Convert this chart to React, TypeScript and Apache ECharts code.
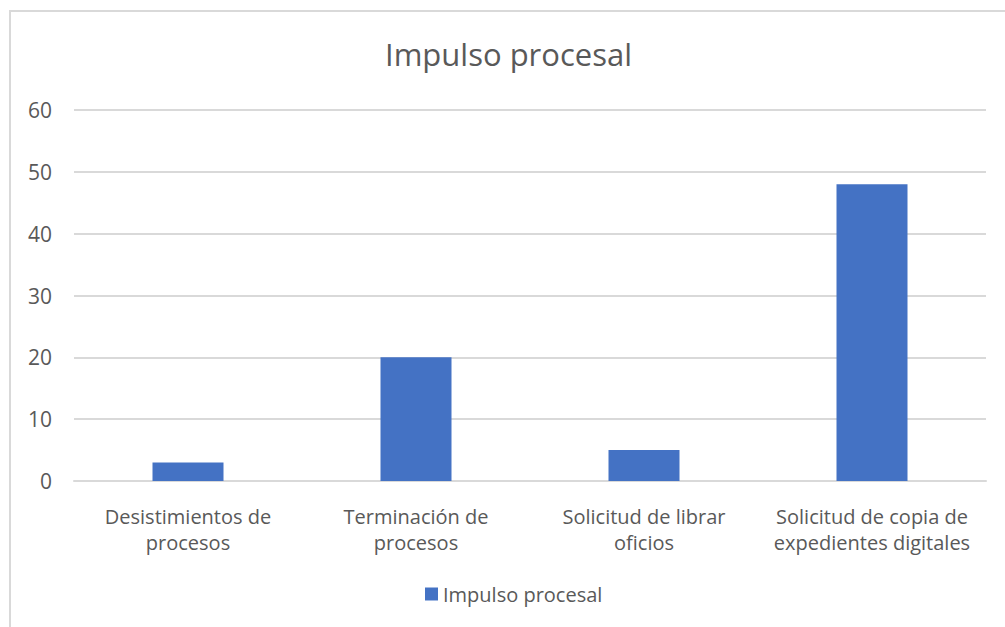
import React, { useEffect, useRef } from "react";
import * as echarts from "echarts";

const categories = [
  "Desistimientos de\nprocesos",
  "Terminación de\nprocesos",
  "Solicitud de librar\noficios",
  "Solicitud de copia de\nexpedientes digitales",
];
const values = [3, 20, 5, 48];
const seriesName = "Impulso procesal";
const titleText = "Impulso procesal";

export default function App() {
  const ref = useRef<HTMLDivElement>(null);
  useEffect(() => {
    if (!ref.current) return;
    const chart = echarts.init(ref.current, null, { renderer: "svg" });
    const font = "'Open Sans', sans-serif";
    chart.setOption({
      animation: false,
      backgroundColor: "#ffffff",
      textStyle: { fontFamily: font },
      title: {
        text: titleText,
        left: 380,
        top: 33,
        textStyle: { fontSize: 31, fontWeight: "normal", color: "#595959", fontFamily: font },
      },
      graphic: [
        {
          type: "rect",
          z: -10,
          silent: true,
          shape: { x: 10, y: 11, width: 1200, height: 800 },
          style: { fill: "none", stroke: "#d9d9d9", lineWidth: 2 },
        },
      ],
      legend: {
        data: [seriesName],
        top: 579,
        left: 420,
        icon: "rect",
        itemWidth: 13,
        itemHeight: 13,
        itemGap: 6,
        textStyle: { fontSize: 20, color: "#595959", fontFamily: font },
      },
      grid: { left: 74, right: 19, top: 110, bottom: 146, containLabel: false },
      xAxis: {
        type: "category",
        data: categories,
        axisLine: { lineStyle: { color: "#d9d9d9", width: 2 } },
        axisTick: { show: false },
        axisLabel: {
          interval: 0,
          fontSize: 20,
          lineHeight: 26,
          margin: 22,
          color: "#595959",
          fontFamily: font,
        },
      },
      yAxis: {
        type: "value",
        min: 0,
        max: 60,
        interval: 10,
        axisLine: { show: false },
        axisTick: { show: false },
        splitLine: { lineStyle: { color: "#d9d9d9", width: 2 } },
        axisLabel: { fontSize: 21, color: "#595959", margin: 22, fontFamily: font },
      },
      series: [
        {
          name: seriesName,
          type: "bar",
          data: values,
          barWidth: 71,
          itemStyle: { color: "#4472C4" },
        },
      ],
    });
    return () => chart.dispose();
  }, []);
  return (
    <div
      ref={ref}
      style={{ position: "fixed", left: 0, top: 0, width: 1005, height: 627 }}
    />
  );
}
